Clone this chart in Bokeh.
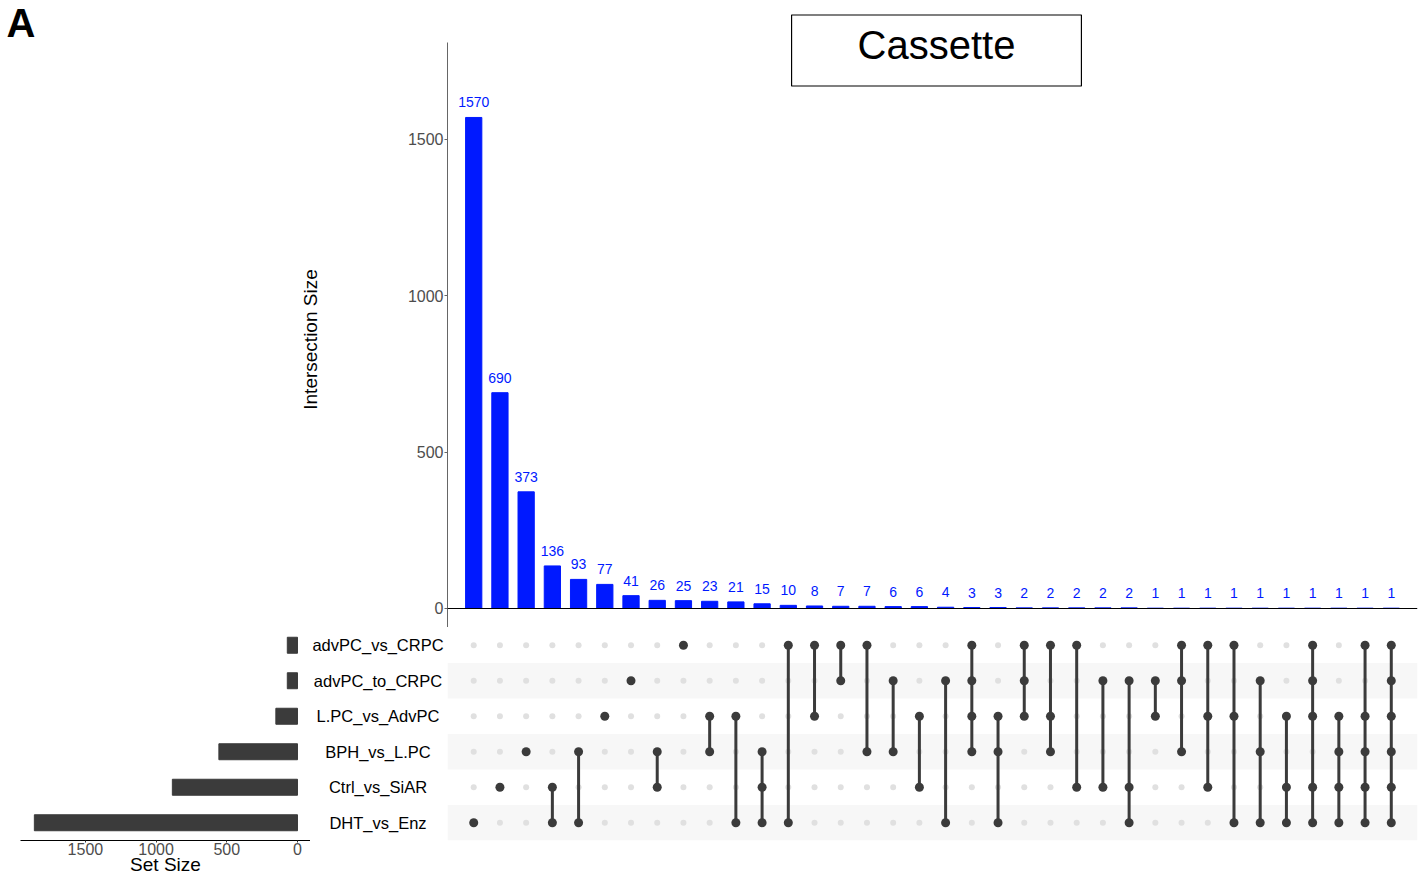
import math
from bokeh.plotting import figure
from bokeh.layouts import column, row
from bokeh.models import ColumnDataSource, Label, FixedTicker, Range1d, Span
from bokeh.core.properties import value
from bokeh.embed import file_html
from bokeh.resources import INLINE

FONT = "Liberation Sans"

# ---------------- data ----------------
set_names = ["advPC_vs_CRPC", "advPC_to_CRPC", "L.PC_vs_AdvPC",
             "BPH_vs_L.PC", "Ctrl_vs_SiAR", "DHT_vs_Enz"]
set_sizes = [72, 72, 153, 556, 885, 1861]

intersection_sizes = [1570, 690, 373, 136, 93, 77, 41, 26, 25, 23, 21, 15,
                      10, 8, 7, 7, 6, 6, 4, 3, 3, 2, 2, 2, 2, 2,
                      1, 1, 1, 1, 1, 1, 1, 1, 1, 1]

# membership of each intersection (A=advPC_vs_CRPC, B=advPC_to_CRPC,
# L=L.PC_vs_AdvPC, P=BPH_vs_L.PC, C=Ctrl_vs_SiAR, D=DHT_vs_Enz)
set_keys = ["A", "B", "L", "P", "C", "D"]
intersection_members = ["D", "C", "P", "CD", "PD", "L", "B", "PC", "A", "LP",
                        "LD", "PCD", "AD", "AL", "AB", "AP", "BP", "LC", "BD",
                        "ABLP", "LPD", "ABL", "ALP", "AC", "BC", "BCD", "BL",
                        "ABP", "ALC", "ALD", "BPD", "LCD", "ABLCD", "LPCD",
                        "ALPCD", "ABLPCD"]

panel_letter = "A"
panel_title = "Cassette"
y_title = "Intersection Size"
x_title = "Set Size"
y_ticks = [0, 500, 1000, 1500]
set_ticks = [0, 500, 1000, 1500]

# ---------------- derived positions ----------------
n_int = len(intersection_sizes)
n_set = len(set_names)
xs = list(range(1, n_int + 1))
row_y = {k: n_set - 1 - i for i, k in enumerate(set_keys)}
set_y = [n_set - 1 - i for i in range(n_set)]

BLUE = "#0019FF"
DARK = "#3B3B3B"
x_lo, x_hi = 0, n_int + 1
TOP_H = 627
BOT_H = 251


def clean(p):
    p.outline_line_color = None
    p.xgrid.visible = False
    p.ygrid.visible = False
    p.background_fill_color = "white"
    p.border_fill_color = "white"


# ---------------- left header area: panel letter + y title ----------------
p_A = figure(width=400, height=TOP_H, x_range=Range1d(0, 400),
             y_range=Range1d(TOP_H, 0), output_backend="svg",
             toolbar_location=None, x_axis_location=None, y_axis_location=None,
             min_border_left=0, min_border_right=0, min_border_top=0,
             min_border_bottom=0)
clean(p_A)
p_A.text(x=[6], y=[22], text=[panel_letter], text_baseline="middle",
         text_align="left", text_font=value(FONT), text_font_size="40px",
         text_font_style="bold", text_color="#000000")
p_A.text(x=[309.5], y=[339], text=[y_title], angle=math.pi / 2,
         text_baseline="middle", text_align="center", text_font=value(FONT),
         text_font_size="19px", text_color="#000000")

# ---------------- top: intersection size bars ----------------
p_top = figure(width=1018, height=TOP_H, x_range=Range1d(x_lo, x_hi),
               y_range=Range1d(-60.8, 1944), output_backend="svg",
               toolbar_location=None, x_axis_location=None,
               min_border_left=47, min_border_right=1,
               min_border_top=0, min_border_bottom=0)
clean(p_top)

src_top = ColumnDataSource(dict(x=xs, top=intersection_sizes,
                                lbl=[str(v) for v in intersection_sizes]))
p_top.vbar(x="x", top="top", bottom=0, width=0.62, color=BLUE, source=src_top)
p_top.text(x="x", y="top", text="lbl", source=src_top, text_align="center",
           text_baseline="bottom", y_offset=-10, text_color=BLUE,
           text_font=value(FONT), text_font_size="14px")
p_top.add_layout(Span(location=0, dimension="width", line_color="#000000",
                      line_width=1.2))

ya = p_top.yaxis[0]
ya.ticker = FixedTicker(ticks=y_ticks)
ya.bounds = (-60.8, 1810)
ya.minor_tick_line_color = None
ya.major_tick_in = 0
ya.major_tick_out = 3
ya.major_tick_line_color = "#666666"
ya.axis_line_color = "#666666"
ya.major_label_standoff = 1
ya.major_label_text_font = FONT
ya.major_label_text_font_size = "16px"
ya.major_label_text_color = "#4D4D4D"

p_top.add_layout(Label(x=489, y=577, x_units="screen", y_units="screen",
                       text=panel_title, text_font=FONT, text_font_size="40px",
                       text_color="#000000", text_align="center",
                       text_baseline="middle", border_line_color="#000000",
                       border_line_width=1.2,
                       padding=dict(left=66, right=66, top=8, bottom=19)))

# ---------------- bottom-right: matrix ----------------
p_mat = figure(width=971, height=BOT_H, x_range=p_top.x_range,
               y_range=Range1d(-0.5, n_set - 0.5), output_backend="svg",
               toolbar_location=None, x_axis_location=None,
               y_axis_location=None, min_border_left=0, min_border_right=1,
               min_border_top=0, min_border_bottom=38)
clean(p_mat)

shade_y = [set_y[i] for i in range(n_set) if i % 2 == 1]
p_mat.quad(left=[x_lo] * len(shade_y), right=[x_hi] * len(shade_y),
           bottom=[y - 0.5 for y in shade_y], top=[y + 0.5 for y in shade_y],
           color="#F7F7F7", line_color=None)

gx, gy = [], []
ax_, ay_ = [], []
seg_x, seg_y0, seg_y1 = [], [], []
for x, mem in zip(xs, intersection_members):
    ys = [row_y[k] for k in mem]
    for k in set_keys:
        if k in mem:
            ax_.append(x); ay_.append(row_y[k])
        else:
            gx.append(x); gy.append(row_y[k])
    if len(ys) > 1:
        seg_x.append(x); seg_y0.append(min(ys)); seg_y1.append(max(ys))

p_mat.scatter(gx, gy, size=6, color="#E0E0E0", line_color=None)
p_mat.segment(x0=seg_x, y0=seg_y0, x1=seg_x, y1=seg_y1, line_width=3,
              line_color=DARK)
p_mat.scatter(ax_, ay_, size=9, color=DARK, line_color=None)

# ---------------- bottom-left: set size bars ----------------
p_set = figure(width=310, height=BOT_H, x_range=Range1d(1959, -92),
               y_range=p_mat.y_range, output_backend="svg",
               toolbar_location=None, y_axis_location=None,
               min_border_left=20, min_border_right=0, min_border_top=0,
               min_border_bottom=38)
clean(p_set)
p_set.hbar(y=set_y, left=0, right=set_sizes, height=0.45, color=DARK)
sx = p_set.xaxis[0]
sx.ticker = FixedTicker(ticks=set_ticks)
sx.minor_tick_line_color = None
sx.major_tick_in = 0
sx.major_tick_out = 2
sx.major_tick_line_color = "#333333"
sx.axis_line_color = "#000000"
sx.major_label_standoff = 0
sx.major_label_text_font = FONT
sx.major_label_text_font_size = "16px"
sx.major_label_text_color = "#4D4D4D"
sx.axis_label = x_title
sx.axis_label_text_font = FONT
sx.axis_label_text_font_size = "19px"
sx.axis_label_text_font_style = "normal"
sx.axis_label_text_color = "#000000"
sx.axis_label_standoff = -4

# ---------------- bottom-middle: set names ----------------
p_lbl = figure(width=137, height=BOT_H, x_range=Range1d(0, 1),
               y_range=p_mat.y_range, output_backend="svg",
               toolbar_location=None, x_axis_location=None,
               y_axis_location=None, min_border_left=0, min_border_right=0,
               min_border_top=0, min_border_bottom=38)
clean(p_lbl)
p_lbl.text(x=[0.5] * n_set, y=set_y, text=set_names, text_align="center",
           text_baseline="middle", x_offset=-1, text_font=value(FONT),
           text_font_size="16.5px", text_color="#000000")

layout = column(row(p_A, p_top), row(p_set, p_lbl, p_mat))
open("out.html", "w").write(file_html(layout, INLINE))
